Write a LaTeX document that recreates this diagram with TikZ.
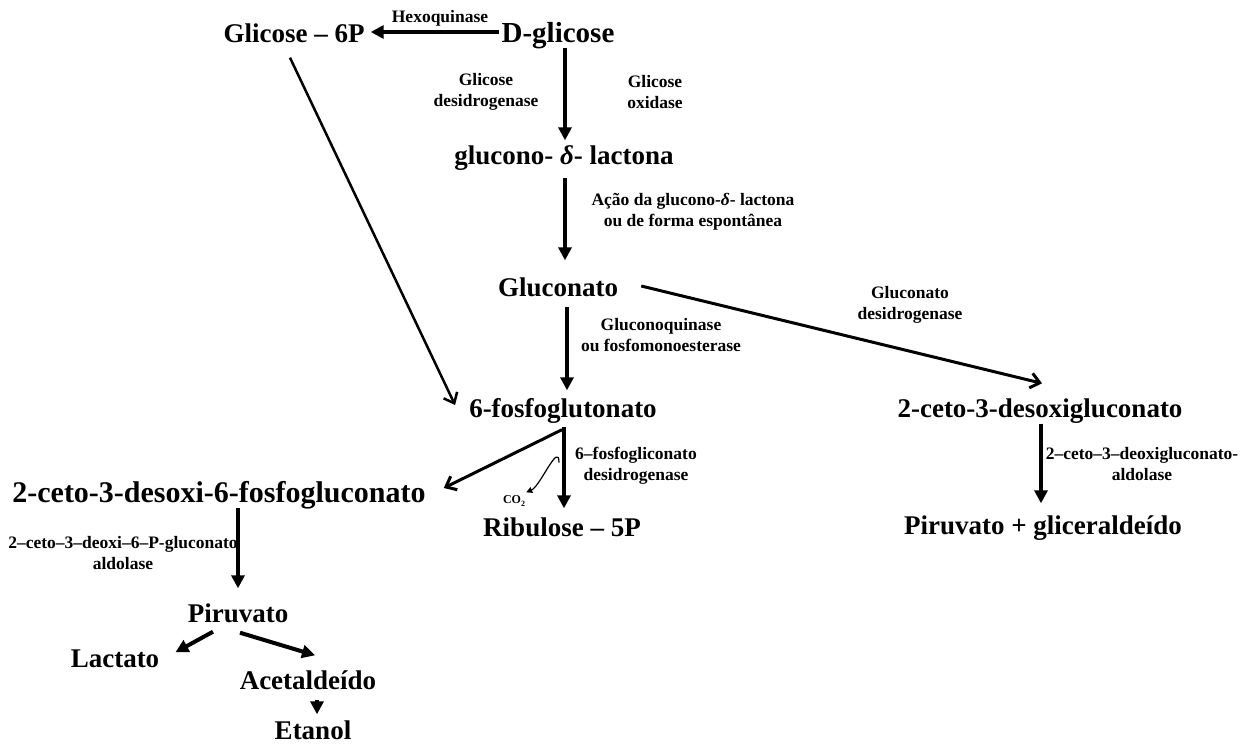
\documentclass[tikz,border=0pt]{standalone}
\usepackage{fontspec}
\setmainfont{Liberation Serif}[
  UprightFont={Liberation Serif},
  BoldFont={Liberation Serif Bold},
  ItalicFont={Liberation Serif Italic},
  BoldItalicFont={Liberation Serif Bold Italic}]
\usetikzlibrary{arrows.meta}
\begin{document}
\begin{tikzpicture}[x=1pt,y=-1pt,
  sp/.style={font=\bfseries\fontsize{#1}{30}\selectfont, inner sep=0pt, text height=18pt, text depth=5pt},
  sp/.default=27,
  lab/.style={font=\bfseries\fontsize{17.5}{21}\selectfont, inner sep=0pt, align=center},
  arr/.style={line width=4pt, -{Triangle[length=13pt,width=13pt]}},
  barb/.style={line width=#1, -{Straight Barb[length=9pt,width=15pt]}},
  barb/.default=3pt]
\useasboundingbox[fill=white] (0,0) rectangle (1253,745);

% metabolites
\node[sp]     (g6p)  at (294,36)  {Glicose -- 6P};
\node[sp=29]  (dg)   at (558,36)  {D-glicose};
\node[sp]     (gl)   at (564,158) {glucono- \textit{δ}- lactona};
\node[sp]     (gc)   at (558,290) {Gluconato};
\node[sp]     (pg)   at (563,411) {6-fosfoglutonato};
\node[sp]     (kdg)  at (1040,411){2-ceto-3-desoxigluconato};
\node[sp=30]  (kdpg) at (219,496) {2-ceto-3-desoxi-6-fosfogluconato};
\node[sp]     (rib)  at (562,530) {Ribulose -- 5P};
\node[sp]     (pgl)  at (1043,528){Piruvato + gliceraldeído};
\node[sp]     (pir)  at (238,616) {Piruvato};
\node[sp]     (lac)  at (115,661) {Lactato};
\node[sp]     (ace)  at (308,683) {Acetaldeído};
\node[sp]     (eta)  at (313,733) {Etanol};
\node[font=\bfseries\fontsize{12}{14}\selectfont, inner sep=0pt] (co2) at (514,501) {CO\raisebox{-3pt}{\fontsize{8}{9}\selectfont 2}};

% enzymes
\node[lab] (l1) at (440,18)  {Hexoquinase};
\node[lab] (l2) at (486,92)  {Glicose\\desidrogenase};
\node[lab] (l3) at (655,92)  {Glicose\\oxidase};
\node[lab] (l4) at (693,212) {Ação da glucono-\textit{δ}- lactona\\ou de forma espontânea};
\node[lab] (l5) at (661,335) {Gluconoquinase\\ou fosfomonoesterase};
\node[lab] (l6) at (910,305) {Gluconato\\desidrogenase};
\node[lab] (l7) at (636,466) {6–fosfogliconato\\desidrogenase};
\node[lab] (l8) at (1142,464){2–ceto–3–deoxigluconato-\\aldolase};
\node[lab] (l9) at (123,553) {2–ceto–3–deoxi–6–P-gluconato\\aldolase};

% reactions
\draw[line width=3.5pt, -{Triangle[length=13pt,width=13pt]}] ([xshift=-2pt,yshift=4pt]dg.west) -- ([xshift=6pt,yshift=4pt]g6p.east);
\draw[arr] ([xshift=7pt]dg.south) -- ([xshift=1pt,yshift=6pt]gl.north);
\draw[arr] ([xshift=1pt,yshift=-8pt]gl.south) -- ([xshift=7pt,yshift=18pt]gc.north);
\draw[arr] ([xshift=9pt,yshift=-5pt]gc.south) -- ([xshift=4pt,yshift=9pt]pg.north);
\draw[barb=3pt] ([xshift=23pt,yshift=4pt]gc.east) -- ([xshift=2pt,yshift=16pt]kdg.north);
\draw[barb=2.5pt] ([xshift=-4pt,yshift=-10pt]g6p.south) -- ([xshift=-14pt,yshift=6pt]pg.west);
\draw[arr] ([xshift=1pt,yshift=-4pt]pg.south) -- ([xshift=2pt,yshift=10pt]rib.north);
\draw[barb=3pt] ([xshift=-1pt,yshift=-7pt]pg.south) -- ([xshift=18pt,yshift=8pt]kdpg.east);
\coordinate (cs) at ([xshift=-4pt,yshift=-40pt]pg.south);
\draw[line width=1.2pt, -{Triangle[length=6pt,width=6pt]}] (cs) .. controls +(0,-22) and +(14,-6) .. ([xshift=1pt,yshift=3pt]co2.north east);
\draw[arr] ([xshift=1pt,yshift=-1pt]kdg.south) -- ([xshift=-2pt,yshift=13pt]pgl.north);
\draw[arr] ([xshift=19pt]kdpg.south) -- ([yshift=16pt]pir.north);
\draw[arr] ([xshift=-25pt,yshift=-4pt]pir.south) -- ([xshift=16pt,yshift=-3pt]lac.north east);
\draw[arr] ([xshift=2pt,yshift=-5pt]pir.south) -- ([xshift=7pt,yshift=16pt]ace.north);
\draw[arr] ([xshift=9pt,yshift=-5pt]ace.south) -- ([xshift=4pt,yshift=7pt]eta.north);
\end{tikzpicture}
\end{document}
